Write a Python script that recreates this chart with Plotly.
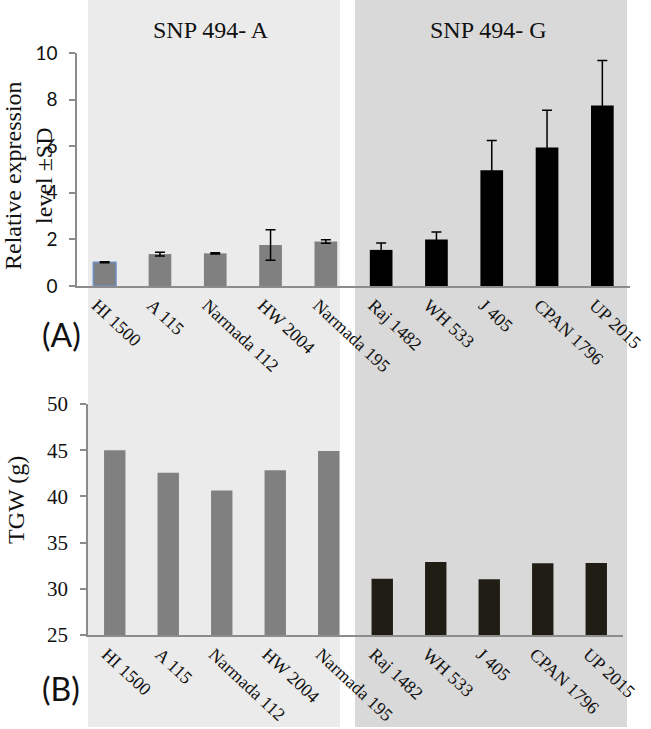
import plotly.graph_objects as go

# ---------------- data ----------------
categories = ["HI 1500", "A 115", "Narmada 112", "HW 2004", "Narmada 195",
              "Raj 1482", "WH 533", "J 405", "CPAN 1796", "UP 2015"]
groups = ["A", "A", "A", "A", "A", "G", "G", "G", "G", "G"]
expression = [1.02, 1.37, 1.40, 1.76, 1.91, 1.55, 2.00, 4.97, 5.94, 7.75]
expression_sd = [0.02, 0.08, 0.03, 0.65, 0.07, 0.30, 0.32, 1.27, 1.60, 1.93]
tgw = [45.0, 42.55, 40.64, 42.84, 44.92, 31.10, 32.90, 31.04, 32.77, 32.80]
expr_ticks = [0, 2, 4, 6, 8, 10]
tgw_ticks = [25, 30, 35, 40, 45, 50]

W, H = 651, 729
SERIF = "Liberation Serif, Times New Roman, serif"
SANS = "Lato, Open Sans, sans-serif"

top_colors = ["#808080" if g == "A" else "#000000" for g in groups]
bot_colors = ["#808080" if g == "A" else "#201d14" for g in groups]
top_line_colors = ["#6f90c6"] + ["#808080"] * (len(categories) - 1)
top_line_widths = [1.5] + [0] * (len(categories) - 1)

fig = go.Figure()

fig.add_trace(go.Bar(
    x=categories, y=expression, xaxis="x", yaxis="y",
    marker=dict(color=top_colors, line=dict(color=top_line_colors, width=top_line_widths)),
    error_y=dict(type="data", array=expression_sd, visible=True,
                 color="#000000", thickness=1.5, width=5),
    width=0.41, showlegend=False, hoverinfo="x+y",
))

fig.add_trace(go.Bar(
    x=categories, y=tgw, xaxis="x2", yaxis="y2",
    marker=dict(color=bot_colors, line=dict(width=0)),
    width=0.4, showlegend=False, hoverinfo="x+y",
))

def px_x(p):
    return p / W

def px_y(p):
    return 1 - p / H

axis_line = "#8c8c8c"
cat_font = dict(family=SERIF, size=18, color="#111")

fig.update_layout(
    width=W, height=H,
    margin=dict(l=0, r=0, t=0, b=0, pad=0, autoexpand=False),
    paper_bgcolor="white",
    plot_bgcolor="rgba(0,0,0,0)",
    showlegend=False,
    xaxis=dict(
        domain=[px_x(77), px_x(630)], anchor="y", automargin=False,
        type="category", showline=True, linecolor=axis_line, linewidth=1.5,
        ticks="", showgrid=False, tickangle=43, tickfont=cat_font,
        ticklabelshift=-8,
    ),
    yaxis=dict(
        domain=[px_y(286), px_y(53)], anchor="x", automargin=False,
        range=[0, 10], tickvals=expr_ticks,
        showline=True, linecolor=axis_line, linewidth=1.5,
        ticks="outside", ticklen=6, tickcolor=axis_line, tickwidth=1.5,
        showgrid=False, zeroline=False, ticklabelstandoff=8,
        tickfont=dict(family=SANS, size=19, color="#111"),
    ),
    xaxis2=dict(
        domain=[px_x(88), px_x(623)], anchor="y2", automargin=False,
        type="category", showline=True, linecolor=axis_line, linewidth=1.5,
        ticks="", showgrid=False, tickangle=43, tickfont=cat_font,
        ticklabelshift=-8,
    ),
    yaxis2=dict(
        domain=[px_y(635), px_y(404)], anchor="x2", automargin=False,
        range=[25, 50], tickvals=tgw_ticks,
        showline=True, linecolor=axis_line, linewidth=1.5,
        ticks="outside", ticklen=6, tickcolor=axis_line, tickwidth=1.5,
        showgrid=False, zeroline=False, ticklabelstandoff=8,
        tickfont=dict(family=SERIF, size=21, color="#111"),
    ),
    shapes=[
        dict(type="rect", xref="paper", yref="paper", layer="below",
             x0=px_x(88), x1=px_x(340), y0=px_y(727), y1=1,
             fillcolor="#ebebeb", line=dict(width=0)),
        dict(type="rect", xref="paper", yref="paper", layer="below",
             x0=px_x(355), x1=px_x(627), y0=px_y(727), y1=1,
             fillcolor="#d9d9d9", line=dict(width=0)),
    ],
    annotations=[
        dict(text="SNP 494- A", xref="paper", yref="paper", x=px_x(211), y=px_y(30),
             showarrow=False, font=dict(family=SERIF, size=24, color="#111"),
             xanchor="center", yanchor="middle"),
        dict(text="SNP 494- G", xref="paper", yref="paper", x=px_x(488), y=px_y(30),
             showarrow=False, font=dict(family=SERIF, size=24, color="#111"),
             xanchor="center", yanchor="middle"),
        dict(text="Relative expression<br>level ±SD", xref="paper", yref="paper",
             x=px_x(29), y=px_y(176), textangle=-90, showarrow=False,
             font=dict(family=SERIF, size=24, color="#111"),
             xanchor="center", yanchor="middle"),
        dict(text="TGW (g)", xref="paper", yref="paper",
             x=px_x(16), y=px_y(500), textangle=-90, showarrow=False,
             font=dict(family=SERIF, size=24, color="#111"),
             xanchor="center", yanchor="middle"),
        dict(text="(A)", xref="paper", yref="paper", x=px_x(61), y=px_y(335),
             showarrow=False, font=dict(family=SANS, size=32, color="#111"),
             xanchor="center", yanchor="middle"),
        dict(text="(B)", xref="paper", yref="paper", x=px_x(61), y=px_y(688),
             showarrow=False, font=dict(family=SANS, size=32, color="#111"),
             xanchor="center", yanchor="middle"),
    ],
)

fig.write_html(
    "out.html",
    config={"displayModeBar": False},
    post_script="document.body.style.margin='0';document.body.style.overflow='hidden';",
)
